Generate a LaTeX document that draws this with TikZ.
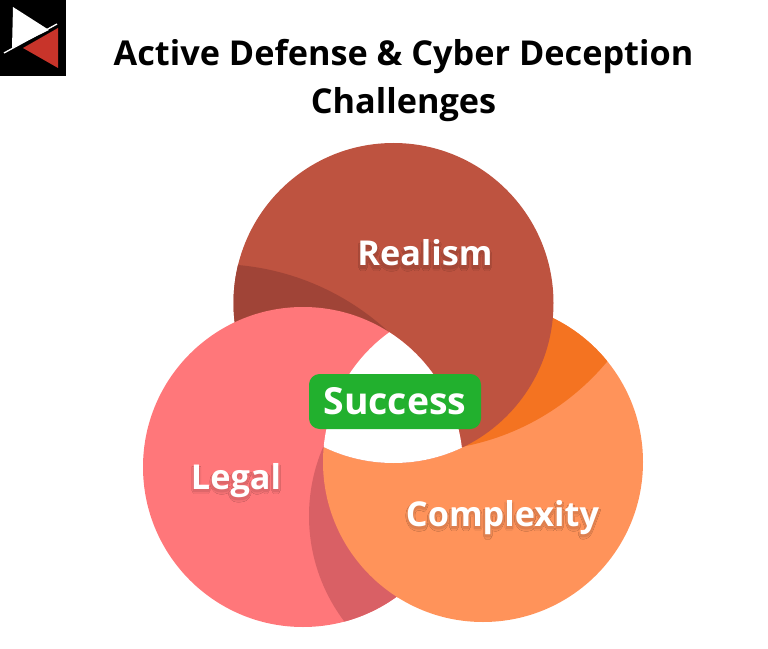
\documentclass[tikz,border=0pt]{standalone}
\usepackage{fontspec}
\usetikzlibrary{fadings}
\setmainfont{Open Sans}

\definecolor{realismred}{RGB}{190,83,64}
\definecolor{realismdark}{RGB}{160,68,55}
\definecolor{legalpink}{RGB}{255,119,122}
\definecolor{legaldark}{RGB}{217,96,101}
\definecolor{complexorange}{RGB}{255,147,90}
\definecolor{complexdark}{RGB}{244,115,33}
\definecolor{successgreen}{RGB}{34,176,46}
\definecolor{logored}{RGB}{200,52,42}

\tikzset{every picture/.style={line width=0.75pt}}
\tikzset{
	titletext/.style={font=\fontsize{25.7}{25.7}\selectfont\bfseries,text=black,inner sep=0pt,anchor=base},
	bigtext/.style={font=\fontsize{25.7}{25.7}\selectfont\bfseries,text=white,inner sep=0pt,anchor=base},
	successbox/.style={fill=successgreen,rounded corners=8pt,minimum width=129pt,minimum height=41.25pt,inner sep=0pt}
}

% soft shadow of the labels, kept as a mask
\begin{tikzfadingfrompicture}[name=labelshadow,x=0.75pt,y=0.75pt,yscale=-1]
	\path (0,0) rectangle (768,649);
	\foreach \dx/\dy/\shade in {-2/2/95,2/2/95,-1/4/95,1/4/95,0/5/95,0/2/87,-1/3/87,1/3/87}{
		\node [bigtext,text=transparent!\shade] at (425+\dx,266+\dy) {Realism};
		\node [bigtext,text=transparent!\shade] at (236+\dx,489+\dy) {Legal};
		\node [bigtext,text=transparent!\shade] at (502.5+\dx,526+\dy) {Complexity};
	}
\end{tikzfadingfrompicture}

\begin{document}
\begin{tikzpicture}[x=0.75pt,y=0.75pt,yscale=-1,xscale=1,radius=160]
	\useasboundingbox (0,0) rectangle (768,649);

	\coordinate (realism) at (393.5,303);
	\coordinate (legal) at (303,467);
	\coordinate (complexity) at (483,462);

	% Logo
	\fill [black] (0,0) rectangle (65.5,76);
	\fill [white] (13,7) -- (12,48) -- (49,30) -- cycle;
	\fill [logored] (23,48) -- (58,28) -- (58,68) -- cycle;
	\draw [white,line width=1pt] (4,53) -- (57,24);

	% Complexity circle
	\fill [complexorange] (complexity) circle;
	\begin{scope}
		\clip (complexity) circle;
		\fill [complexdark] (416,202) circle [radius=249];
	\end{scope}

	% Realism circle
	\fill [realismred] (realism) circle;
	\begin{scope}
		\clip (realism) circle;
		\fill [realismdark] (215,520) circle [radius=256];
	\end{scope}

	% Legal circle
	\fill [legalpink] (legal) circle;
	\begin{scope}
		\clip (legal) circle;
		\fill [legaldark] (484,516) circle [radius=175];
	\end{scope}

	% Complexity lies over Legal, a little wider to hide the seam
	\begin{scope}[even odd rule]
		\clip (0,0) rectangle (768,649) (realism) circle;
		\clip (legal) circle [radius=161.5];
		\fill [complexorange] (complexity) circle;
	\end{scope}

	% Middle
	\begin{scope}
		\clip (legal) circle;
		\clip (complexity) circle;
		\fill [white] (realism) circle;
	\end{scope}

	% Text Node
	\node [titletext] (titleone) at (403.5,66) {Active Defense \& Cyber Deception};
	\node [titletext] (titletwo) at (403.5,114) {Challenges};

	% Labels
	\fill [black,path fading=labelshadow,fit fading=false,fading transform={shift={(384,-324.5)}}] (0,0) rectangle (768,649);
	\node [bigtext] (lblrealism) at (425,266) {Realism};
	\node [bigtext] (lbllegal) at (236,489) {Legal};
	\node [bigtext] (lblcomplexity) at (502.5,526) {Complexity};

	\node [successbox] (boxsuccess) at (395,401.5) {};
	\node [bigtext,font=\fontsize{28}{28}\selectfont\bfseries] (lblsuccess) at (395,414.5) {Success};

\end{tikzpicture}
\end{document}
